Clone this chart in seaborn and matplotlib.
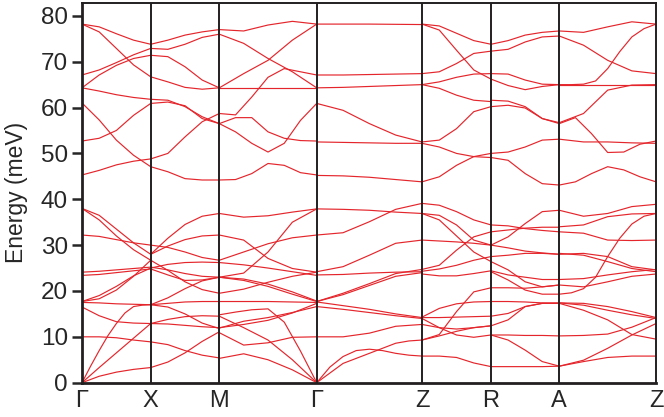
import numpy as np
import pandas as pd
import matplotlib
matplotlib.use("Agg")
import matplotlib.pyplot as plt
import seaborn as sns

# High-symmetry path
labels = ['Γ', 'X', 'M', 'Γ', 'Z', 'R', 'A', 'Z']
kpos = [0.0, 68.7, 137.3, 234.7, 340.0, 409.0, 477.3, 574.0]

# Energies (meV) sampled evenly along each segment, one list per branch
seg_GX = [
    [38.0, 36.5, 33.5, 30.5, 28.0],
    [38.0, 35.5, 32.0, 29.0, 26.7],
    [32.2, 31.9, 31.2, 30.5, 30.0],
    [24.1, 24.3, 24.6, 24.9, 25.2],
    [23.4, 23.6, 24.0, 24.4, 24.8],
    [17.7, 19.0, 21.0, 23.3, 25.0],
    [17.7, 18.3, 20.2, 23.2, 26.7],
    [17.5, 17.4, 17.2, 17.1, 17.0],
    [16.5, 14.6, 13.3, 13.0, 12.9],
    [10.0, 10.0, 9.8, 9.3, 8.9],
    [0.0, 3.6, 7.0, 10.2, 12.9, 15.2, 16.6, 16.9, 17.0],
    [0.0, 3.3, 6.5, 9.7, 12.9],
    [0.0, 1.4, 2.3, 2.9, 3.3],
    [78.2, 77.6, 76.1, 74.7, 73.8],
    [78.2, 76.5, 72.9, 69.3, 66.7],
    [67.1, 68.2, 69.8, 71.5, 72.9],
    [64.3, 67.1, 69.2, 70.7, 71.4],
    [64.3, 63.6, 62.8, 62.2, 61.8],
    [61.0, 57.3, 52.9, 49.6, 47.1],
    [52.7, 53.3, 55.0, 58.3, 60.9],
    [45.3, 46.3, 47.5, 48.3, 48.8],
]

seg_XM = [
    [28.0, 31.5, 34.5, 36.3, 36.9],
    [28.0, 29.8, 31.2, 32.0, 32.2],
    [30.0, 29.5, 28.5, 27.3, 26.7],
    [25.0, 25.8, 26.2, 26.3, 26.2],
    [25.2, 24.6, 23.8, 23.2, 23.0],
    [26.7, 24.5, 22.0, 20.3, 19.5],
    [24.8, 23.5, 22.3, 22.4, 23.0],
    [17.0, 18.5, 20.5, 22.2, 23.0],
    [17.0, 17.3, 17.6, 17.7, 17.7],
    [12.9, 13.8, 14.4, 14.6, 14.5],
    [17.0, 16.5, 15.0, 13.0, 11.8],
    [12.9, 12.8, 12.5, 12.2, 12.0],
    [8.9, 8.3, 7.0, 6.0, 5.4],
    [3.3, 4.5, 6.5, 9.0, 11.1],
    [73.8, 74.7, 75.8, 76.5, 77.0],
    [72.9, 72.7, 73.8, 75.3, 76.0],
    [71.4, 71.1, 68.9, 66.0, 64.3],
    [66.7, 65.6, 64.4, 64.0, 64.3],
    [61.8, 61.6, 60.2, 58.0, 56.5],
    [60.9, 61.2, 60.4, 57.6, 56.5],
    [48.8, 50.0, 53.6, 56.9, 58.7],
    [47.1, 46.0, 44.5, 44.2, 44.2],
]

seg_MG = [
    [36.9, 36.1, 36.4, 37.2, 37.9],
    [32.2, 31.1, 27.1, 24.9, 24.1],
    [26.7, 28.5, 30.3, 31.6, 32.2],
    [23.0, 23.9, 28.5, 35.0, 37.9],
    [23.0, 22.3, 21.0, 19.3, 17.7],
    [23.0, 22.6, 21.5, 19.8, 17.8],
    [26.2, 25.7, 25.0, 24.2, 23.4],
    [19.5, 20.4, 21.9, 23.2, 24.1],
    [17.7, 17.7, 17.7, 17.6, 17.5],
    [14.8, 15.4, 15.9, 16.1, 13.2, 6.9, 0.0],
    [14.5, 12.0, 9.3, 5.0, 0.0],
    [5.3, 6.3, 5.0, 2.8, 0.0],
    [10.9, 8.2, 8.7, 9.9, 10.0],
    [11.9, 13.4, 14.2, 15.3, 16.6],
    [12.0, 12.7, 13.6, 15.2, 17.3],
    [77.0, 76.7, 78.0, 78.8, 78.2],
    [76.0, 74.0, 70.7, 67.8, 64.3],
    [64.3, 67.4, 70.3, 74.7, 78.2],
    [64.3, 64.3, 64.3, 64.3, 64.3],
    [58.7, 58.4, 62.3, 66.6, 68.5, 67.8, 67.1],
    [56.5, 57.8, 57.8, 54.7, 53.3, 52.8, 52.7],
    [56.5, 54.7, 52.2, 50.3, 52.2, 57.2, 60.9],
    [44.2, 44.3, 45.6, 47.8, 47.4, 45.8, 45.3],
]

seg_GZ = [
    [37.9, 37.8, 37.6, 37.2, 36.9],
    [32.2, 32.7, 35.1, 37.8, 39.1],
    [24.2, 25.3, 27.8, 30.4, 31.1],
    [23.5, 23.6, 23.9, 24.1, 24.2],
    [17.7, 19.5, 21.6, 23.8, 24.7],
    [17.7, 19.2, 21.2, 23.2, 24.0],
    [17.6, 16.8, 16.0, 15.0, 14.2],
    [16.6, 16.0, 15.3, 14.6, 14.0],
    [10.0, 10.0, 10.8, 12.3, 12.7],
    [0.0, 2.1, 4.2, 5.3, 6.4, 7.5, 8.6, 9.1, 9.3],
    [0.0, 3.4, 5.7, 7.0, 7.3, 7.0, 6.4, 6.0, 5.8],
    [78.2, 78.2, 78.2, 78.15, 78.1],
    [67.1, 67.1, 67.2, 67.3, 67.4],
    [64.3, 64.4, 64.6, 64.8, 65.0],
    [60.9, 59.4, 56.5, 54.0, 52.5],
    [52.5, 52.4, 52.3, 52.2, 52.2],
    [45.2, 45.1, 44.8, 44.3, 43.8],
]

seg_ZR = [
    [39.1, 38.7, 37.3, 35.5, 34.4],
    [36.9, 36.5, 34.4, 31.1, 30.0],
    [36.9, 35.5, 32.0, 28.5, 26.4],
    [31.1, 30.9, 30.7, 30.4, 30.0],
    [24.7, 25.6, 28.9, 31.8, 32.9],
    [24.3, 24.8, 25.6, 26.7, 27.5],
    [23.7, 23.3, 23.3, 23.8, 24.4],
    [14.3, 16.2, 17.2, 17.6, 17.7],
    [14.2, 14.2, 14.3, 14.4, 14.5],
    [14.0, 12.0, 10.4, 9.9, 10.4],
    [12.7, 12.0, 11.7, 12.0, 12.4],
    [9.3, 10.5, 15.5, 19.8, 20.7],
    [9.3, 10.2, 11.2, 12.0, 12.4],
    [5.8, 5.8, 5.5, 4.3, 3.5],
    [78.2, 77.8, 76.2, 74.6, 73.8],
    [78.2, 76.9, 72.5, 68.2, 66.2],
    [67.4, 67.8, 69.6, 71.8, 72.3],
    [65.0, 65.6, 66.6, 67.3, 67.4],
    [65.0, 64.2, 62.7, 61.6, 61.3],
    [52.5, 52.9, 55.4, 59.1, 60.2],
    [52.2, 51.4, 50.0, 49.3, 49.1],
    [43.8, 44.9, 47.4, 49.3, 50.0],
]

seg_RA = [
    [30.0, 31.8, 34.7, 37.3, 37.6],
    [32.9, 33.3, 33.7, 33.9, 33.9],
    [34.4, 34.2, 33.6, 33.2, 32.9],
    [27.5, 27.8, 28.2, 28.2, 28.0],
    [30.0, 29.4, 28.7, 28.3, 28.0],
    [26.4, 24.6, 22.0, 20.9, 21.3],
    [24.4, 23.5, 23.0, 22.5, 22.5],
    [24.2, 22.4, 20.2, 19.3, 19.3],
    [20.7, 20.7, 20.6, 20.9, 21.3],
    [17.7, 17.7, 17.6, 17.4, 17.3],
    [14.5, 15.1, 16.6, 17.3, 17.3],
    [12.4, 13.7, 16.6, 17.3, 17.4],
    [10.4, 10.4, 10.3, 10.3, 10.2],
    [10.4, 9.3, 7.1, 4.6, 3.6],
    [3.5, 3.5, 3.5, 3.5, 3.6],
    [73.8, 74.6, 75.8, 76.4, 76.7],
    [72.3, 72.7, 74.3, 75.4, 75.6],
    [67.4, 67.3, 66.0, 65.1, 65.0],
    [66.2, 64.8, 63.9, 64.6, 65.0],
    [61.6, 61.4, 60.2, 57.6, 56.7],
    [60.2, 60.5, 59.9, 57.6, 56.5],
    [50.0, 50.3, 51.4, 52.9, 53.1],
    [49.1, 48.5, 45.6, 43.4, 43.1],
]

seg_AZ = [
    [37.6, 36.3, 36.9, 38.4, 38.9],
    [34.0, 34.4, 36.2, 36.8, 36.9],
    [32.9, 32.6, 31.1, 31.0, 31.1],
    [28.0, 28.2, 27.5, 25.3, 24.6],
    [28.2, 27.8, 26.4, 24.9, 24.2],
    [19.3, 19.6, 20.5, 23.0, 27.5, 31.5, 34.6, 36.3, 36.9],
    [22.5, 22.7, 23.5, 24.2, 24.7],
    [21.3, 20.9, 22.0, 23.2, 23.7],
    [17.4, 17.3, 16.6, 15.5, 14.2],
    [17.4, 16.9, 15.8, 14.8, 14.0],
    [17.3, 15.8, 13.7, 10.5, 9.5],
    [10.2, 10.3, 10.6, 12.1, 14.2],
    [3.6, 4.9, 7.5, 10.4, 12.9],
    [3.6, 4.6, 5.5, 5.8, 5.8],
    [76.7, 76.4, 77.6, 78.7, 78.2],
    [75.6, 73.6, 70.3, 68.0, 67.4],
    [65.0, 65.0, 65.1, 65.8, 68.5, 72.2, 75.4, 77.2, 78.2],
    [56.7, 58.7, 63.8, 64.9, 65.0],
    [65.0, 65.0, 65.0, 65.0, 65.0],
    [56.5, 57.8, 54.3, 50.2, 50.3, 52.0, 52.7],
    [53.1, 52.5, 52.5, 52.3, 52.2],
    [43.1, 43.8, 45.6, 47.1, 46.4, 44.9, 43.8],
]

segments = [seg_GX, seg_XM, seg_MG, seg_GZ, seg_ZR, seg_RA, seg_AZ]

rows = []
for s, curves in enumerate(segments):
    k0, k1 = kpos[s], kpos[s + 1]
    for c, energies in enumerate(curves):
        ks = np.linspace(k0, k1, len(energies))
        for order, (k, e) in enumerate(zip(ks, energies)):
            rows.append((k, e, f"{s}-{c}", order))
df = pd.DataFrame(rows, columns=["k", "E", "branch", "order"])

sns.set_style("ticks")
plt.rcParams["font.family"] = ["Liberation Sans", "DejaVu Sans"]

fig = plt.figure(figsize=(6.64, 4.17), dpi=100)
ax = fig.add_axes([0.1235, 0.0823, 0.988 - 0.1235, 0.9928 - 0.0823])

sns.lineplot(data=df, x="k", y="E", units="branch", estimator=None, sort=False,
             color="#e4262c", linewidth=0.85, ax=ax, legend=False)

for kp in kpos[1:-1]:
    ax.axvline(kp, color="#231f20", lw=1.4, zorder=3)

ax.set_xlim(kpos[0], kpos[-1])
ax.set_ylim(0, 82.8)
ax.set_xticks(kpos)
ax.set_xticklabels(labels, fontsize=17)
ax.set_yticks(range(0, 81, 10))
ax.tick_params(axis="y", labelsize=17.5, length=7, width=1.8, direction="out", pad=3)
ax.tick_params(axis="x", length=0, pad=5)
ax.set_xlabel("")
ax.set_ylabel("Energy (meV)", fontsize=16.5, labelpad=9)
for side in ["left", "bottom"]:
    ax.spines[side].set_linewidth(2.0)
for side in ["top", "right"]:
    ax.spines[side].set_linewidth(1.4)
for sp in ax.spines.values():
    sp.set_color("#231f20")

fig.savefig("out.png", dpi=100)
